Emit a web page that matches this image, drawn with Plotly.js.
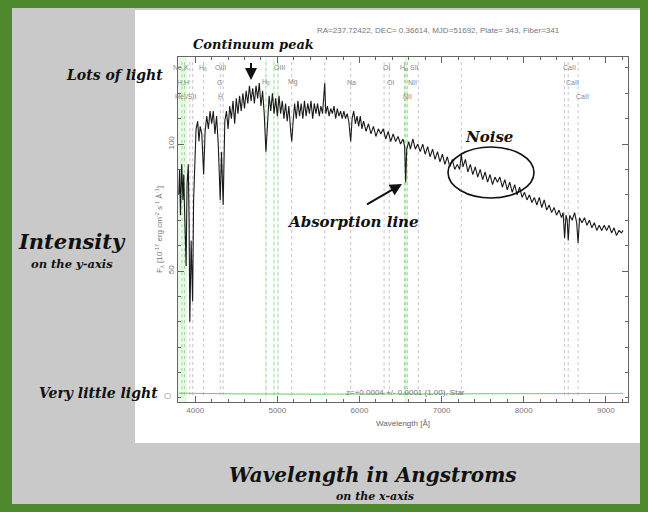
<!DOCTYPE html>
<html>
<head>
<meta charset="utf-8">
<script src="https://cdn.plot.ly/plotly-3.0.1.min.js"></script>
<style>
  html, body { margin:0; padding:0; }
  body { width:648px; height:512px; background:#4e8a2c; position:relative; overflow:hidden; }
  #grey { position:absolute; left:12px; top:8px; width:628px; height:496px; background:#c9c9c9; }
  #white { position:absolute; left:135px; top:10px; width:505px; height:433px; background:#ffffff; }
  #chart { position:absolute; left:0; top:0; width:648px; height:512px; }
</style>
</head>
<body>
<div id="grey"></div>
<div id="white"></div>
<div id="chart"></div>
<script>
// ---- spectrum (wavelength in Angstrom, flux in 1e-17 erg/cm2/s/A) ----
const wavelength = [
 3800,3810,3820,3835,3850,3860,3870,3889,3900,3915,3925,3934,3950,3968,3980,3995,
 4010,4030,4045,4060,4080,4102,4120,4140,4160,4180,4200,4220,4240,4260,4280,4304,
 4320,4340,4360,4380,4400,4420,4440,4460,4480,4500,4520,4540,4560,4580,4600,4620,
 4640,4660,4680,4700,4720,4740,4760,4780,4800,4820,4840,4861,4880,4900,4920,4940,
 4960,4980,5000,5020,5040,5060,5080,5100,5120,5140,5160,5175,5190,5210,5230,5250,
 5270,5290,5310,5330,5350,5370,5390,5410,5430,5450,5470,5490,5510,5530,5550,5577,
 5590,5610,5630,5650,5670,5690,5710,5730,5750,5770,5790,5810,5830,5850,5870,5893,
 5910,5930,5950,5970,5990,6010,6030,6050,6080,6110,6140,6170,6200,6230,6260,6290,
 6320,6350,6380,6410,6440,6470,6500,6530,6550,6563,6575,6600,6620,6650,6680,6710,
 6740,6770,6800,6830,6860,6890,6920,6950,6980,7010,7040,7070,7100,7130,7160,7190,
 7220,7240,7260,7290,7320,7350,7380,7410,7440,7470,7500,7530,7560,7590,7620,7650,
 7680,7710,7740,7770,7800,7830,7860,7890,7920,7950,7980,8010,8040,8070,8100,8130,
 8160,8190,8220,8250,8280,8310,8340,8370,8400,8430,8460,8480,8498,8515,8530,8542,
 8560,8590,8620,8645,8662,8680,8710,8740,8770,8800,8830,8860,8890,8920,8950,8980,
 9010,9040,9070,9100,9130,9160,9190,9210
];
const flux = [
 80,90,72,92,78,88,74,52,84,92,70,30,62,38,78,96,
 106,109,101,107,104,88,105,111,106,113,108,113,104,111,100,78,
 97,76,109,113,106,115,110,117,108,118,112,119,113,120,114,121,
 116,123,117,122,116,123,118,124,115,121,112,97,111,119,113,120,
 112,118,111,119,112,117,110,116,109,115,106,101,108,116,110,117,
 111,116,110,117,111,116,112,117,110,116,112,116,111,115,112,124,
 112,115,111,114,112,115,110,114,111,113,110,113,110,112,109,101,
 110,113,108,111,107,111,106,109,105,108,104,107,103,106,104,106,
 102,105,101,104,101,103,100,102,99,85,98,101,98,102,98,100,
 97,100,96,99,95,98,94,97,93,96,92,95,91,94,90,92,
 90,96,91,94,89,92,88,91,87,90,86,89,85,88,84,87,
 85,87,83,86,82,85,81,84,80,83,79,81,78,80,77,79,
 76,79,75,78,74,76,73,75,72,74,71,73,63,72,70,62,
 72,70,73,69,61,71,69,71,68,70,67,69,66,68,66,68,
 66,68,65,67,64,66,65,66
];
// error spectrum (near zero)
const errWave = [3800, 4500, 5500, 6500, 7500, 8500, 9210];
const errFlux = [1.9, 1.6, 1.5, 1.5, 1.6, 1.7, 1.8];

// ---- spectral line markers ----
const absLines  = [3934, 3969, 4102, 4304, 4340, 5175, 5577, 5893, 6300, 6363, 6716, 7240, 8498, 8542, 8662];
const emLines   = [3839, 3869, 4861, 4959, 5007, 6548, 6563, 6583];
const bandLo    = [3790, 4850, 4950, 5000, 6540];
const bandHi    = [3900, 4870, 4965, 5015, 6590];
const lineLabelText = ['Ne,K','H<sub>δ</sub>','OIII','OIII','OI','H<sub>α</sub>','SII','CaII',
                       'H,H','G','H<sub>β</sub>','Mg','Na','OI','NII','CaII',
                       'HeI/SII','H','NII','CaII'];
const lineLabelWave = [3830,4100,4305,5025,6325,6540,6665,8560,
                       3850,4290,4862,5190,5897,6372,6640,8600,
                       3880,4305,6590,8720];
const lineLabelRow  = [1,1,1,1,1,1,1,1, 2,2,2,2,2,2,2,2, 3,3,3,3];

// ---- geometry helpers (pixel -> paper) ----
const L = 178, R = 628, T = 57, B = 402;
const PX = x => (x - L) / (R - L);
const PY = y => (B - y) / (B - T);

const shapes = [];
for (let i = 0; i < bandLo.length; i++) {
  shapes.push({type:'rect', xref:'x', yref:'paper', x0:bandLo[i], x1:bandHi[i], y0:0, y1:1,
    fillcolor:'rgba(140,225,140,0.20)', line:{width:0}, layer:'below'});
}
absLines.forEach(w => shapes.push({type:'line', xref:'x', yref:'paper', x0:w, x1:w, y0:0.02, y1:0.99,
  line:{color:'rgba(175,145,180,0.6)', width:1, dash:'dot'}, layer:'below'}));
emLines.forEach(w => shapes.push({type:'line', xref:'x', yref:'paper', x0:w, x1:w, y0:0.02, y1:0.99,
  line:{color:'rgba(110,200,110,0.6)', width:1, dash:'dot'}, layer:'below'}));
// noise ellipse
shapes.push({type:'circle', xref:'paper', yref:'paper', x0:PX(448), x1:PX(534), y0:PY(198), y1:PY(147),
  line:{color:'#111', width:1.6}});

const serif = (size) => ({family:'DejaVu Serif', size:size, color:'#111', weight:'bold', style:'italic'});
const annotations = [];
const rowY = {1:68, 2:82, 3:96};
for (let i = 0; i < lineLabelText.length; i++) {
  annotations.push({xref:'x', yref:'paper', x:lineLabelWave[i], y:PY(rowY[lineLabelRow[i]]),
    xanchor:'center', yanchor:'middle',
    text:lineLabelText[i], showarrow:false, font:{family:'Liberation Sans', size:7, color:'#888'}});
}
function note(x, y, text, font, xanchor) {
  return {xref:'paper', yref:'paper', x:PX(x), y:PY(y), xanchor:xanchor || 'center', yanchor:'middle',
          text:text, showarrow:false, font:font};
}
annotations.push(
  note(438, 30, 'RA=237.72422, DEC= 0.36614, MJD=51692, Plate= 343, Fiber=341', {family:'Liberation Sans', size:8, color:'#777'}),
  note(253, 45, 'Continuum peak', serif(13)),
  {xref:'paper', yref:'paper', x:PX(251), y:PY(80), ax:0, ay:-27, text:' ', showarrow:true,
   arrowhead:2, arrowsize:1.2, arrowwidth:2, arrowcolor:'#111'},
  note(165, 75, 'Lots of light', serif(14), 'right'),
  note(72, 242, 'Intensity', serif(21)),
  note(72, 264, 'on the y-axis', serif(11.5)),
  note(160, 393, 'Very little light', serif(14), 'right'),
  note(167, 395, '○', {family:'DejaVu Sans', size:8, color:'#666'}),
  note(353, 222, 'Absorption line', serif(15)),
  {xref:'paper', yref:'paper', x:PX(402), y:PY(184), ax:-38, ay:22, text:' ', showarrow:true,
   arrowhead:2, arrowsize:1.2, arrowwidth:2, arrowcolor:'#111'},
  note(489, 137, 'Noise', serif(15)),
  note(405, 392, 'z=+0.0004 +/- 0.0001 (1.00), Star', {family:'Liberation Sans', size:8, color:'#777'}),
  note(373, 475, 'Wavelength in Angstroms', serif(20)),
  note(375, 497, 'on the x-axis', serif(11))
);

const traces = [
  {x:errWave, y:errFlux, type:'scatter', mode:'lines', line:{color:'#5fd35f', width:1}, hoverinfo:'skip'},
  {x:wavelength, y:flux, type:'scatter', mode:'lines', line:{color:'#1a1a1a', width:1.1}, hoverinfo:'skip'}
];

const tickFont = {family:'Liberation Sans', size:8, color:'#777'};
const layout = {
  width:648, height:512,
  margin:{l:L, r:648-R, t:T, b:512-B, pad:0},
  paper_bgcolor:'rgba(0,0,0,0)', plot_bgcolor:'#ffffff',
  showlegend:false,
  xaxis:{range:[3790, 9270], tickvals:[4000,5000,6000,7000,8000,9000], ticktext:['4000','5000','6000','7000','8000','9000'],
    ticks:'inside', ticklen:6, tickcolor:'#666', showline:true, linecolor:'#666', linewidth:1, mirror:'allticks',
    showgrid:false, zeroline:false, tickfont:tickFont,
    minor:{dtick:200, tick0:3800, ticks:'inside', ticklen:3, tickcolor:'#666', showgrid:false},
    title:{text:'Wavelength [Å]', font:{family:'Liberation Sans', size:8, color:'#666'}, standoff:6}},
  yaxis:{range:[-1.6, 134.3], tickvals:[50,100], ticktext:['50','100'], tickangle:-90,
    ticks:'inside', ticklen:6, tickcolor:'#666', showline:true, linecolor:'#666', linewidth:1, mirror:'allticks',
    showgrid:false, zeroline:false, tickfont:tickFont,
    minor:{dtick:10, tick0:0, ticks:'inside', ticklen:3, tickcolor:'#666', showgrid:false},
    title:{text:'F<sub>λ</sub> [10<sup>-17</sup> erg cm<sup>-2</sup> s<sup>-1</sup> Å<sup>-1</sup>]',
      font:{family:'Liberation Sans', size:8, color:'#777'}, standoff:2}},
  shapes:shapes,
  annotations:annotations
};
Plotly.newPlot('chart', traces, layout, {staticPlot:true, displayModeBar:false});
</script>
</body>
</html>
